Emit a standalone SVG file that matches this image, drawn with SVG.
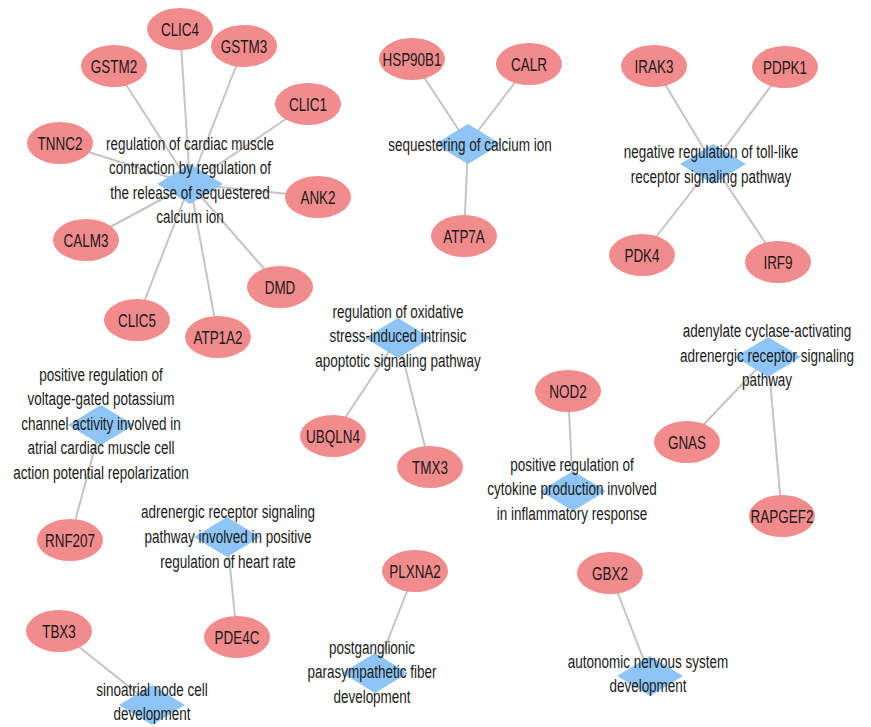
<svg xmlns="http://www.w3.org/2000/svg" xmlns:xlink="http://www.w3.org/1999/xlink" width="871" height="727" viewBox="0 0 871 727">
<style>
.e{fill:#F28B8B;stroke:none}
.d{fill:#8EC4F6;stroke:none}
.c line{stroke:#C4C4C4;stroke-width:2}
text{font-family:"Liberation Sans",Arial,sans-serif;font-size:19px;fill:#1a1a1a;text-anchor:middle}
</style>
<defs>
<ellipse id="ell" cx="0" cy="0" rx="33" ry="21"/>
<polygon id="dia" points="0,-20 33,0 0,20 -33,0"/>
</defs>
<rect width="871" height="727" fill="#fff"/>
<g id="connectors" class="c">
<line x1="114" y1="66" x2="190" y2="184"/>
<line x1="180" y1="29" x2="190" y2="184"/>
<line x1="244" y1="46" x2="190" y2="184"/>
<line x1="308" y1="104" x2="190" y2="184"/>
<line x1="60" y1="143" x2="190" y2="184"/>
<line x1="318" y1="197" x2="190" y2="184"/>
<line x1="86" y1="240" x2="190" y2="184"/>
<line x1="280" y1="287" x2="190" y2="184"/>
<line x1="137" y1="320" x2="190" y2="184"/>
<line x1="218" y1="337" x2="190" y2="184"/>
<line x1="412" y1="59" x2="468" y2="144"/>
<line x1="529" y1="64" x2="468" y2="144"/>
<line x1="464" y1="236" x2="468" y2="144"/>
<line x1="654" y1="66" x2="713" y2="164"/>
<line x1="785" y1="67" x2="713" y2="164"/>
<line x1="642" y1="255" x2="713" y2="164"/>
<line x1="778" y1="262" x2="713" y2="164"/>
<line x1="333" y1="436" x2="398" y2="338"/>
<line x1="430" y1="467" x2="398" y2="338"/>
<line x1="70" y1="540" x2="101" y2="425"/>
<line x1="237" y1="637" x2="227" y2="537"/>
<line x1="59" y1="631" x2="152" y2="705"/>
<line x1="415" y1="571" x2="375" y2="673"/>
<line x1="568" y1="391" x2="573" y2="491"/>
<line x1="687" y1="442" x2="768" y2="357"/>
<line x1="782" y1="516" x2="768" y2="357"/>
<line x1="610" y1="573" x2="650" y2="676"/>
</g>
<g id="go_cardiac"><use href="#dia" class="d" x="190" y="184"/><text transform="translate(190 0) scale(0.71 1)"><tspan x="0" y="150">regulation of cardiac muscle</tspan><tspan x="0" y="174.5">contraction by regulation of</tspan><tspan x="0" y="199">the release of sequestered</tspan><tspan x="0" y="223.5">calcium ion</tspan></text></g>
<g id="GSTM2"><use href="#ell" class="e" x="114" y="66"/><text transform="translate(114 0) scale(0.71 1)" x="0" y="73">GSTM2</text></g>
<g id="CLIC4"><use href="#ell" class="e" x="180" y="29"/><text transform="translate(180 0) scale(0.71 1)" x="0" y="36">CLIC4</text></g>
<g id="GSTM3"><use href="#ell" class="e" x="244" y="46"/><text transform="translate(244 0) scale(0.71 1)" x="0" y="53">GSTM3</text></g>
<g id="CLIC1"><use href="#ell" class="e" x="308" y="104"/><text transform="translate(308 0) scale(0.71 1)" x="0" y="111">CLIC1</text></g>
<g id="TNNC2"><use href="#ell" class="e" x="60" y="143"/><text transform="translate(60 0) scale(0.71 1)" x="0" y="150">TNNC2</text></g>
<g id="ANK2"><use href="#ell" class="e" x="318" y="197"/><text transform="translate(318 0) scale(0.71 1)" x="0" y="204">ANK2</text></g>
<g id="CALM3"><use href="#ell" class="e" x="86" y="240"/><text transform="translate(86 0) scale(0.71 1)" x="0" y="247">CALM3</text></g>
<g id="DMD"><use href="#ell" class="e" x="280" y="287"/><text transform="translate(280 0) scale(0.71 1)" x="0" y="294">DMD</text></g>
<g id="CLIC5"><use href="#ell" class="e" x="137" y="320"/><text transform="translate(137 0) scale(0.71 1)" x="0" y="327">CLIC5</text></g>
<g id="ATP1A2"><use href="#ell" class="e" x="218" y="337"/><text transform="translate(218 0) scale(0.71 1)" x="0" y="344">ATP1A2</text></g>

<g id="go_sequestering"><use href="#dia" class="d" x="468" y="144"/><text transform="translate(470 0) scale(0.71 1)" x="0" y="151">sequestering of calcium ion</text></g>
<g id="HSP90B1"><use href="#ell" class="e" x="412" y="59"/><text transform="translate(412 0) scale(0.71 1)" x="0" y="66">HSP90B1</text></g>
<g id="CALR"><use href="#ell" class="e" x="529" y="64"/><text transform="translate(529 0) scale(0.71 1)" x="0" y="71">CALR</text></g>
<g id="ATP7A"><use href="#ell" class="e" x="464" y="236"/><text transform="translate(464 0) scale(0.71 1)" x="0" y="243">ATP7A</text></g>

<g id="go_toll"><use href="#dia" class="d" x="713" y="164"/><text transform="translate(711 0) scale(0.71 1)"><tspan x="0" y="158">negative regulation of toll-like</tspan><tspan x="0" y="183">receptor signaling pathway</tspan></text></g>
<g id="IRAK3"><use href="#ell" class="e" x="654" y="66"/><text transform="translate(654 0) scale(0.71 1)" x="0" y="73">IRAK3</text></g>
<g id="PDPK1"><use href="#ell" class="e" x="785" y="67"/><text transform="translate(785 0) scale(0.71 1)" x="0" y="74">PDPK1</text></g>
<g id="PDK4"><use href="#ell" class="e" x="642" y="255"/><text transform="translate(642 0) scale(0.71 1)" x="0" y="262">PDK4</text></g>
<g id="IRF9"><use href="#ell" class="e" x="778" y="262"/><text transform="translate(778 0) scale(0.71 1)" x="0" y="269">IRF9</text></g>

<g id="go_oxidative"><use href="#dia" class="d" x="398" y="338"/><text transform="translate(398 0) scale(0.71 1)"><tspan x="0" y="318">regulation of oxidative</tspan><tspan x="0" y="342.5">stress-induced intrinsic</tspan><tspan x="0" y="367">apoptotic signaling pathway</tspan></text></g>
<g id="UBQLN4"><use href="#ell" class="e" x="333" y="436"/><text transform="translate(333 0) scale(0.71 1)" x="0" y="443">UBQLN4</text></g>
<g id="TMX3"><use href="#ell" class="e" x="430" y="467"/><text transform="translate(430 0) scale(0.71 1)" x="0" y="474">TMX3</text></g>

<g id="go_potassium"><use href="#dia" class="d" x="101" y="425"/><text transform="translate(101 0) scale(0.71 1)"><tspan x="0" y="381">positive regulation of</tspan><tspan x="0" y="405.5">voltage-gated potassium</tspan><tspan x="0" y="430">channel activity involved in</tspan><tspan x="0" y="454.5">atrial cardiac muscle cell</tspan><tspan x="0" y="479">action potential repolarization</tspan></text></g>
<g id="RNF207"><use href="#ell" class="e" x="70" y="540"/><text transform="translate(70 0) scale(0.71 1)" x="0" y="547">RNF207</text></g>

<g id="go_heartrate"><use href="#dia" class="d" x="227" y="537"/><text transform="translate(228 0) scale(0.71 1)"><tspan x="0" y="518">adrenergic receptor signaling</tspan><tspan x="0" y="543">pathway involved in positive</tspan><tspan x="0" y="567.5">regulation of heart rate</tspan></text></g>
<g id="PDE4C"><use href="#ell" class="e" x="237" y="637"/><text transform="translate(237 0) scale(0.71 1)" x="0" y="644">PDE4C</text></g>

<g id="go_sinoatrial"><use href="#dia" class="d" x="152" y="705"/><text transform="translate(152 0) scale(0.71 1)"><tspan x="0" y="696">sinoatrial node cell</tspan><tspan x="0" y="720.5">development</tspan></text></g>
<g id="TBX3"><use href="#ell" class="e" x="59" y="631"/><text transform="translate(59 0) scale(0.71 1)" x="0" y="638">TBX3</text></g>

<g id="go_parasympathetic"><use href="#dia" class="d" x="375" y="673"/><text transform="translate(372 0) scale(0.71 1)"><tspan x="0" y="654">postganglionic</tspan><tspan x="0" y="678.5">parasympathetic fiber</tspan><tspan x="0" y="703">development</tspan></text></g>
<g id="PLXNA2"><use href="#ell" class="e" x="415" y="571"/><text transform="translate(415 0) scale(0.71 1)" x="0" y="578">PLXNA2</text></g>

<g id="go_cytokine"><use href="#dia" class="d" x="573" y="491"/><text transform="translate(572 0) scale(0.71 1)"><tspan x="0" y="471">positive regulation of</tspan><tspan x="0" y="495.5">cytokine production involved</tspan><tspan x="0" y="520">in inflammatory response</tspan></text></g>
<g id="NOD2"><use href="#ell" class="e" x="568" y="391"/><text transform="translate(568 0) scale(0.71 1)" x="0" y="398">NOD2</text></g>

<g id="go_adenylate"><use href="#dia" class="d" x="768" y="357"/><text transform="translate(767 0) scale(0.71 1)"><tspan x="0" y="337">adenylate cyclase-activating</tspan><tspan x="0" y="362">adrenergic receptor signaling</tspan><tspan x="0" y="386.5">pathway</tspan></text></g>
<g id="GNAS"><use href="#ell" class="e" x="687" y="442"/><text transform="translate(687 0) scale(0.71 1)" x="0" y="449">GNAS</text></g>
<g id="RAPGEF2"><use href="#ell" class="e" x="782" y="516"/><text transform="translate(782 0) scale(0.71 1)" x="0" y="523">RAPGEF2</text></g>

<g id="go_autonomic"><use href="#dia" class="d" x="650" y="676"/><text transform="translate(648 0) scale(0.71 1)"><tspan x="0" y="668">autonomic nervous system</tspan><tspan x="0" y="692.5">development</tspan></text></g>
<g id="GBX2"><use href="#ell" class="e" x="610" y="573"/><text transform="translate(610 0) scale(0.71 1)" x="0" y="580">GBX2</text></g>
</svg>
